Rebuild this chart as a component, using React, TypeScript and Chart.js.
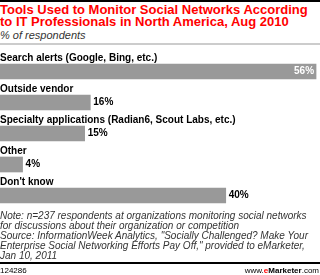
import React, { useEffect, useRef } from "react";
import { Chart, registerables } from "chart.js";

Chart.register(...registerables);

const categories = [
  "Search alerts (Google, Bing, etc.)",
  "Outside vendor",
  "Specialty applications (Radian6, Scout Labs, etc.)",
  "Other",
  "Don't know",
];
const values = [56, 16, 15, 4, 40];

const FONT = "'Liberation Sans', Arial, sans-serif";

const labelPlugin = {
  id: "labelPlugin",
  afterDatasetsDraw(chart: any) {
    const ctx = chart.ctx;
    const meta = chart.getDatasetMeta(0);
    ctx.save();
    meta.data.forEach((bar: any, i: number) => {
      const top = bar.y - bar.height / 2;
      ctx.font = `bold 10px ${FONT}`;
      ctx.fillStyle = "#000";
      ctx.textAlign = "left";
      ctx.textBaseline = "bottom";
      ctx.fillText(categories[i], 0, top - 1);
      const txt = values[i] + "%";
      ctx.textBaseline = "middle";
      if (i === 0) {
        ctx.fillStyle = "#fff";
        ctx.textAlign = "right";
        ctx.fillText(txt, bar.x - 2, bar.y);
      } else {
        ctx.fillStyle = "#000";
        ctx.textAlign = "left";
        ctx.fillText(txt, bar.x + 3, bar.y);
      }
    });
    ctx.restore();
  },
};

export default function App() {
  const ref = useRef<HTMLCanvasElement>(null);
  useEffect(() => {
    document.body.style.margin = "0";
    const chart = new Chart(ref.current!, {
      type: "bar",
      data: {
        labels: categories,
        datasets: [
          {
            data: values,
            backgroundColor: "#999999",
            borderWidth: 0,
            barThickness: 15,
          },
        ],
      },
      options: {
        indexAxis: "y",
        animation: false,
        responsive: false,
        maintainAspectRatio: false,
        layout: { padding: { top: 10, bottom: 5, left: 0, right: 0 } },
        plugins: { legend: { display: false }, tooltip: { enabled: false } },
        scales: {
          x: { display: false, min: 0, max: 56.7 },
          y: { display: false },
        },
      },
      plugins: [labelPlugin],
    });
    return () => chart.destroy();
  }, []);

  return (
    <div style={{ position: "relative", width: 320, height: 275, background: "#fff", overflow: "hidden", fontFamily: FONT }}>
      <div style={{ position: "absolute", left: 0, top: 0, width: 320, height: 2, background: "#000" }} />
      <div style={{ position: "absolute", left: 0, top: 4, width: 320, color: "#ff0000", fontWeight: "bold", fontSize: 13, lineHeight: "12px" }}>
        Tools Used to Monitor Social Networks According to IT Professionals in North America, Aug 2010
      </div>
      <div style={{ position: "absolute", left: 0, top: 29, color: "#333", fontStyle: "italic", fontSize: 11, lineHeight: "12px" }}>
        % of respondents
      </div>
      <div style={{ position: "absolute", left: 0, top: 43, width: 320, height: 2, background: "#ccc" }} />
      <canvas ref={ref} width={320} height={170} style={{ position: "absolute", left: 0, top: 46 }} />
      <div style={{ position: "absolute", left: 0, top: 211, width: 320, color: "#333", fontStyle: "italic", fontSize: 10, lineHeight: "10px" }}>
        <div>Note: n=237 respondents at organizations monitoring social networks for discussions about their organization or competition</div>
        <div>Source: InformationWeek Analytics, "Socially Challenged? Make Your Enterprise Social Networking Efforts Pay Off," provided to eMarketer, Jan 10, 2011</div>
      </div>
      <div style={{ position: "absolute", left: 0, top: 262, width: 320, height: 2, background: "#000" }} />
      <div style={{ position: "absolute", left: 0, top: 266, fontSize: 8, lineHeight: "9px", color: "#000" }}>124286</div>
      <div style={{ position: "absolute", right: 1, top: 266, fontSize: 8, lineHeight: "9px", color: "#000" }}>
        www.<span style={{ color: "#ff0000", fontWeight: "bold" }}>e</span><span style={{ fontWeight: "bold" }}>Marketer</span>.com
      </div>
    </div>
  );
}
